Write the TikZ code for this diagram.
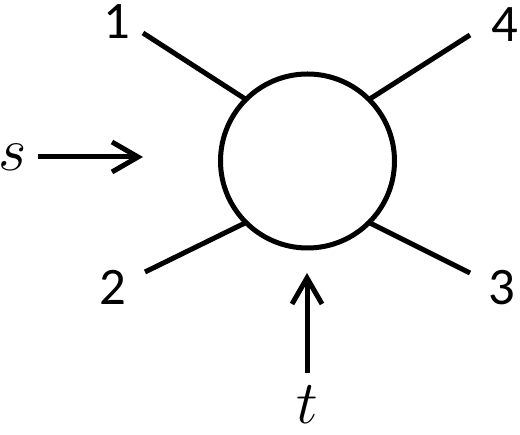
\documentclass[tikz,border=0pt]{standalone}
\usepackage{fontspec}
\newfontfamily\digitfont{Carlito}
\usetikzlibrary{arrows.meta}

\begin{document}
\begin{tikzpicture}[line width=0.1cm,
    lab/.style={font=\digitfont\fontsize{30}{36}\selectfont,inner sep=0pt},
    var/.style={font=\Huge,scale=1.4,inner sep=0pt},
    arr/.style={-{Straight Barb[length=0.52cm,width=0.6cm]}}]
        \useasboundingbox (0,0) rectangle (10.4,8.7);

        \node[circle,draw,minimum size=3.48cm,inner sep=0pt,outer sep=0pt] (c) at (6.15,5.48) {};

        \node[lab]  (1) at (2.34,8.26)  {1};
        \node[lab]  (2) at (2.26,2.96)  {2};
        \node[lab]  (3) at (10.04,2.94) {3};
        \node[lab]  (4) at (10.10,8.20) {4};
        \node[var]  (s) at (0.26,5.56)  {$s$};
        \node[var]  (t) at (6.14,0.6)   {$t$};

        \coordinate (e1) at (2.86,8.04);
        \coordinate (e2) at (2.90,3.26);
        \coordinate (e3) at (9.40,3.24);
        \coordinate (e4) at (9.40,8.00);
        \coordinate (sin) at (2.86,5.56);
        \coordinate (tin) at (6.14,3.24);

        \draw (c.135) edge (e1);
        \draw (c.225) edge (e2);
        \draw (c.315) edge (e3);
        \draw (c.45) edge (e4);
        \draw (s) edge[arr,shorten <=0.14cm] (sin);
        \draw (t) edge[arr,shorten <=0.2cm] (tin);
      \end{tikzpicture}
\end{document}
